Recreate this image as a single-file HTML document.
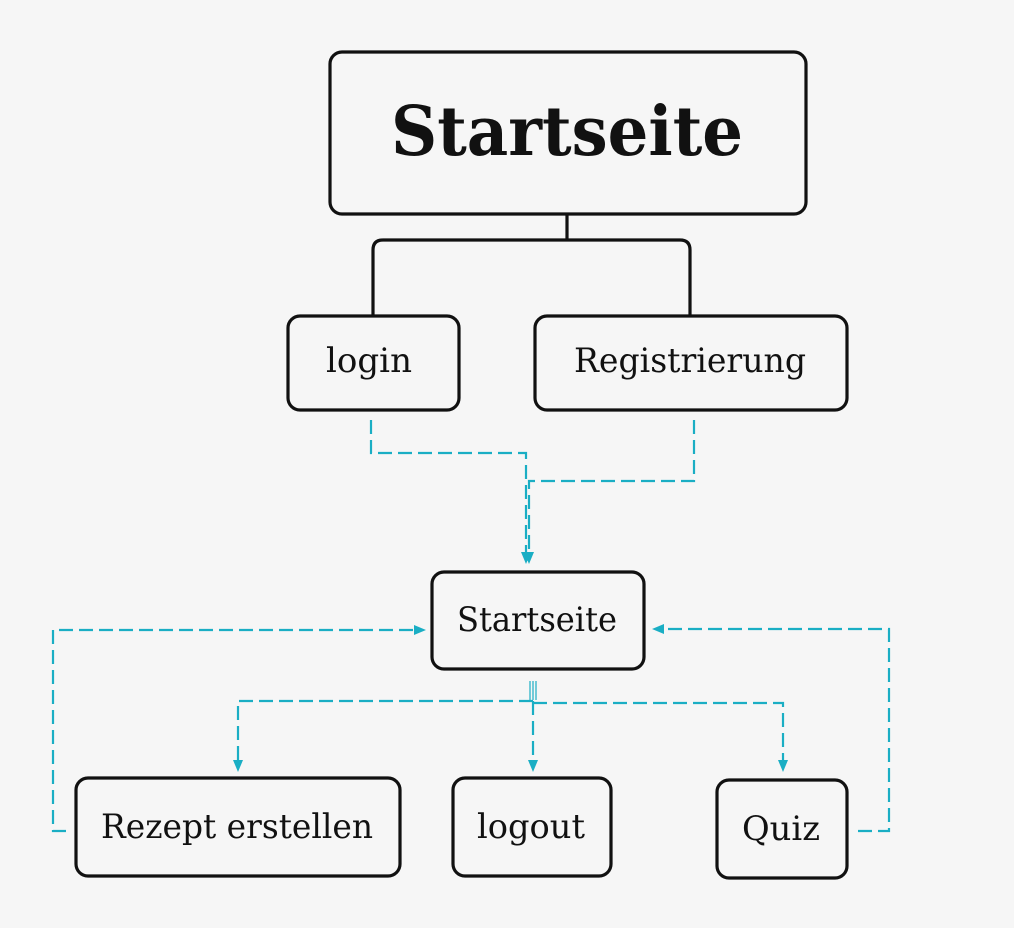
<!DOCTYPE html>
<html><head><meta charset="utf-8"><style>
html,body{margin:0;padding:0;background:#f6f6f6;}
svg{display:block}
text{font-family:"DejaVu Serif","Liberation Serif",serif;fill:#111}
</style></head><body>
<svg width="1014" height="928" viewBox="0 0 1014 928" xmlns="http://www.w3.org/2000/svg">
<defs>
<marker id="a" markerWidth="12" markerHeight="12" refX="6" refY="6" orient="auto" markerUnits="userSpaceOnUse">
<path d="M0,1 L12,6 L0,11 z" fill="#1aaec4"/></marker>
</defs>
<g fill="none" stroke="#111" stroke-width="3.2">
<rect x="330" y="52" width="476" height="162" rx="12"/>
<path d="M567,214 V240 M373,316 V250 Q373,240 383,240 H680 Q690,240 690,250 V316"/>
<rect x="288" y="316" width="171" height="94" rx="12"/>
<rect x="535" y="316" width="312" height="94" rx="12"/>
<rect x="432" y="572" width="212" height="97" rx="12"/>
<rect x="76" y="778" width="324" height="98" rx="12"/>
<rect x="453" y="778" width="158" height="98" rx="12"/>
<rect x="717" y="780" width="130" height="98" rx="12"/>
</g>
<g fill="none" stroke="#1aaec4" stroke-width="2.2" stroke-dasharray="14 6">
<path d="M371,420 V453 H526 V558" marker-end="url(#a)"/>
<path d="M694,420 V481 H529 V558" marker-end="url(#a)"/>
<path d="M66,831 H53 V630 H420" marker-end="url(#a)"/>
<path d="M858,831 H889 V629 H658" marker-end="url(#a)"/>
<path d="M533,701 H238 V766" marker-end="url(#a)"/>
<path d="M533,701 V766" marker-end="url(#a)"/>
<path d="M533,703 H783 V766" marker-end="url(#a)"/>
</g>
<g stroke="#1aaec4" stroke-width="1.2"><path d="M530,681 V700 M533,681 V700 M536,681 V700"/></g>
<text x="567" y="155" font-size="68" font-weight="bold" text-anchor="middle" textLength="352" lengthAdjust="spacingAndGlyphs">Startseite</text>
<text x="369" y="372" font-size="34" text-anchor="middle" textLength="86" lengthAdjust="spacingAndGlyphs">login</text>
<text x="690" y="372" font-size="34" text-anchor="middle" textLength="232" lengthAdjust="spacingAndGlyphs">Registrierung</text>
<text x="537" y="631" font-size="34" text-anchor="middle" textLength="160" lengthAdjust="spacingAndGlyphs">Startseite</text>
<text x="237" y="838" font-size="34" text-anchor="middle" textLength="272" lengthAdjust="spacingAndGlyphs">Rezept erstellen</text>
<text x="531" y="838" font-size="34" text-anchor="middle" textLength="108" lengthAdjust="spacingAndGlyphs">logout</text>
<text x="781" y="840" font-size="34" text-anchor="middle" textLength="78" lengthAdjust="spacingAndGlyphs">Quiz</text>
</svg>
</body></html>
